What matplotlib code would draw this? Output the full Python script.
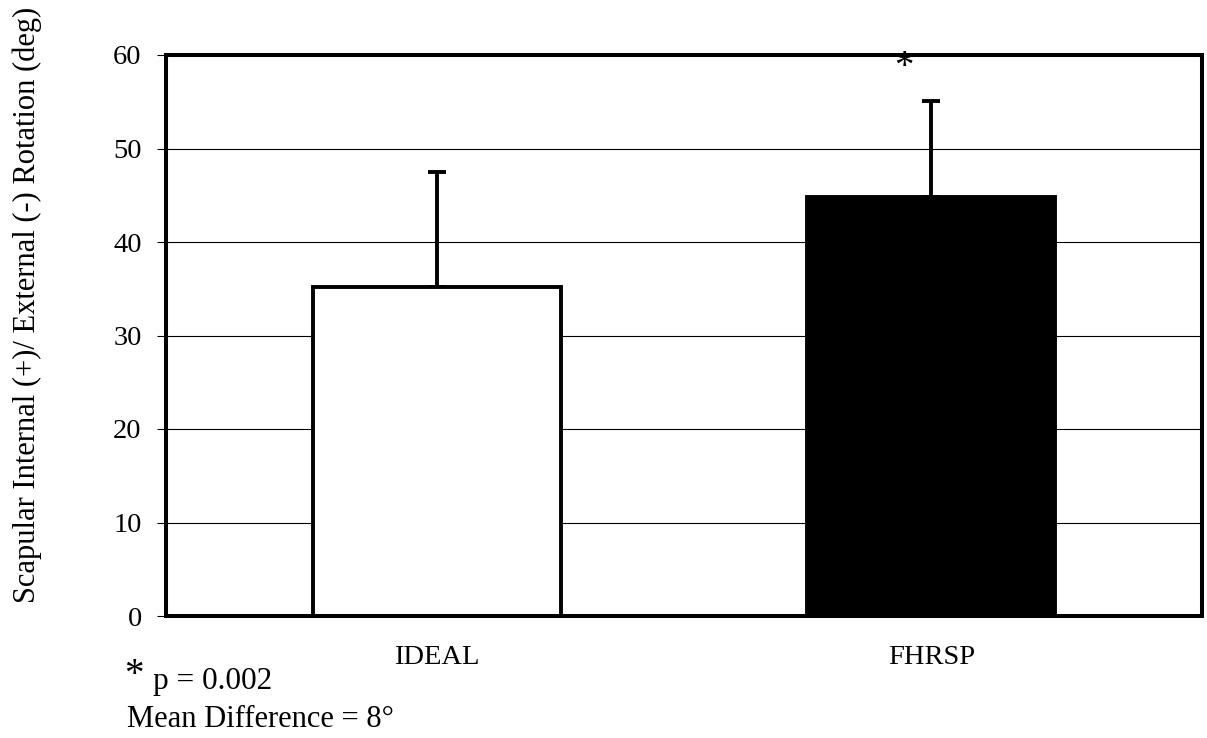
import matplotlib
matplotlib.use("Agg")
import matplotlib.pyplot as plt
import numpy as np

categories = ["IDEAL", "FHRSP"]
means = [35.2, 44.8]
sd_upper = [12.3, 10.3]
bar_colors = ["white", "black"]
y_ticks = [0, 10, 20, 30, 40, 50, 60]
y_label = "Scapular Internal (+)/ External (-) Rotation (deg)"
note1 = "p = 0.002"
note2 = "Mean Difference = 8\u00b0"

plt.rcParams['font.family'] = ['Liberation Serif', 'DejaVu Serif']

fig = plt.figure(figsize=(12.07, 7.38), dpi=100)
W, H = 1207, 738
ax = fig.add_axes([166 / W, 1 - 616 / H, (1202 - 166) / W, (616 - 55) / H])

x = np.arange(len(categories))
ax.set_axisbelow(True)
ax.yaxis.grid(True, color="black", linewidth=0.8)
ax.bar(x, means, width=0.502, color=bar_colors, edgecolor="black", linewidth=2.8, zorder=2)
ax.errorbar(x, means, yerr=[np.zeros(len(means)), sd_upper], fmt="none", ecolor="black",
            elinewidth=2.8, capsize=6.5, capthick=2.8, zorder=1)

ax.set_xlim(-0.549, 1.548)
ax.set_ylim(0, 60)
ax.set_yticks(y_ticks)
ax.set_xticks(x)
ax.set_xticklabels(categories)
ax.tick_params(axis="y", direction="out", length=6.5, width=0.8, labelsize=20.5, pad=11)
ax.tick_params(axis="x", length=0, labelsize=20.5, pad=21)
for s in ax.spines.values():
    s.set_linewidth(2.9)
    s.set_zorder(5)

# significance asterisk above FHRSP
ax.text(x[1] - 0.055, 57.7, "*", ha="center", va="baseline", fontsize=28, zorder=6, clip_on=False)

fig.text(27 / W, 1 - 305 / H, y_label, rotation=90, ha="center", va="center", fontsize=22)
fig.text(124 / W, 1 - 685 / H, "*", ha="left", va="baseline", fontsize=28)
fig.text(153 / W, 1 - 689 / H, note1, ha="left", va="baseline", fontsize=22.5)
fig.text(127 / W, 1 - 727 / H, note2, ha="left", va="baseline", fontsize=22)

fig.savefig("out.png", dpi=100)
